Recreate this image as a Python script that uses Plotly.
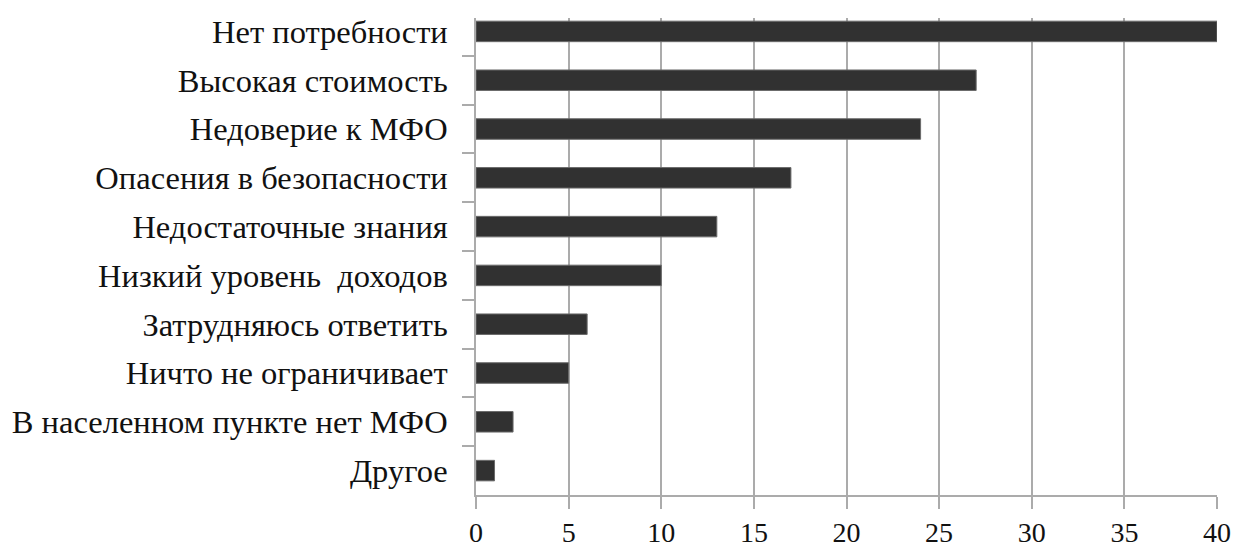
import plotly.graph_objects as go

# Reasons for not using microfinance organisations (МФО), top to bottom
categories = [
    "Нет потребности",
    "Высокая стоимость",
    "Недоверие к МФО",
    "Опасения в безопасности",
    "Недостаточные знания",
    "Низкий уровень  доходов",
    "Затрудняюсь ответить",
    "Ничто не ограничивает",
    "В населенном пункте нет МФО",
    "Другое",
]
values = [40, 27, 24, 17, 13, 10, 6, 5, 2, 1]
x_ticks = [0, 5, 10, 15, 20, 25, 30, 35, 40]

font_family = "Liberation Serif"
axis_gray = "#ababab"
text_color = "#111111"

fig = go.Figure(
    go.Bar(
        x=values,
        y=categories,
        orientation="h",
        width=0.42,
        marker=dict(color="#313131", line=dict(color="#6a6a6a", width=1)),
        hoverinfo="x+y",
    )
)

fig.update_layout(
    width=1236,
    height=549,
    margin=dict(l=476, r=19, t=18, b=54, autoexpand=False),
    paper_bgcolor="white",
    plot_bgcolor="white",
    showlegend=False,
    font=dict(family=font_family, size=32, color=text_color),
)

fig.update_xaxes(
    range=[0, 40],
    tickmode="array",
    tickvals=x_ticks,
    ticktext=[str(v) for v in x_ticks],
    automargin=False,
    showgrid=True,
    gridcolor=axis_gray,
    gridwidth=1.5,
    zeroline=False,
    showline=True,
    linecolor=axis_gray,
    linewidth=1.5,
    ticks="outside",
    ticklen=12,
    tickwidth=1.5,
    tickcolor=axis_gray,
    ticklabelstandoff=0,
    tickfont=dict(family=font_family, size=28, color=text_color),
)

# The first category slot runs slightly above the top of the plot frame
fig.update_yaxes(
    type="category",
    range=[9.5, -0.275],
    automargin=False,
    showgrid=False,
    zeroline=False,
    showline=True,
    linecolor=axis_gray,
    linewidth=1.5,
    ticks="outside",
    tickson="boundaries",
    ticklen=12,
    tickwidth=1.5,
    tickcolor=axis_gray,
    ticklabelstandoff=20,
    tickfont=dict(family=font_family, size=32.5, color=text_color),
)

fig.write_html("out.html")
